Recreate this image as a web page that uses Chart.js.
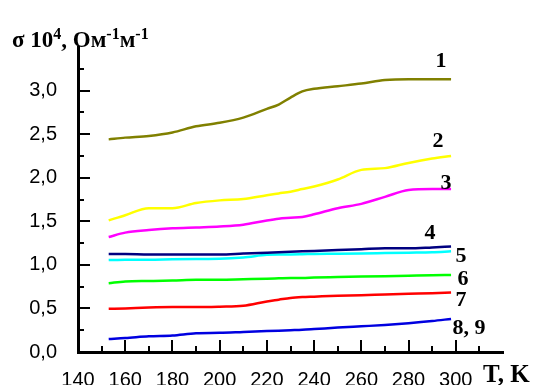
<!DOCTYPE html>
<html>
<head>
<meta charset="utf-8">
<script src="https://cdn.jsdelivr.net/npm/chart.js@4.4.1/dist/chart.umd.min.js"></script>
<style>
  body { margin: 0; background: #fff; }
  #wrap { position: relative; width: 538px; height: 385px; }
  #title {
    position: absolute; left: 12px; top: 27px; line-height: 23px;
    font: bold 23px "Liberation Serif", serif; color: #000; white-space: nowrap;
  }
  #title sup { font-size: 16px; vertical-align: 8px; line-height: 0; }
</style>
</head>
<body>
<div id="wrap">
  <canvas id="chart"></canvas>
  <div id="title">σ 10<sup>4</sup>, Ом<sup>-1</sup>м<sup>-1</sup></div>
</div>
<script>
// temperature, K
const temps = [153, 160, 170, 180, 190, 200, 210, 220, 225, 230, 235, 240, 250, 260, 270, 280, 290, 298];

// conductivity, 10^4 Ohm^-1 m^-1
const s1 = [2.44, 2.46, 2.48, 2.52, 2.59, 2.63, 2.69, 2.79, 2.84, 2.92, 2.99, 3.02, 3.05, 3.08, 3.12, 3.13, 3.13, 3.13];
const s2 = [1.51, 1.57, 1.65, 1.65, 1.71, 1.74, 1.755, 1.80, 1.82, 1.84, 1.87, 1.90, 1.98, 2.09, 2.11, 2.17, 2.22, 2.25];
const s3 = [1.32, 1.37, 1.40, 1.42, 1.43, 1.44, 1.46, 1.51, 1.53, 1.54, 1.55, 1.58, 1.65, 1.70, 1.78, 1.86, 1.87, 1.87];
const s4 = [1.125, 1.125, 1.12, 1.12, 1.12, 1.12, 1.13, 1.14, 1.145, 1.15, 1.155, 1.16, 1.17, 1.18, 1.19, 1.19, 1.20, 1.21];
const s5 = [1.055, 1.06, 1.06, 1.065, 1.068, 1.07, 1.085, 1.115, 1.12, 1.12, 1.122, 1.125, 1.127, 1.13, 1.135, 1.14, 1.145, 1.155];
const s6 = [0.79, 0.81, 0.815, 0.82, 0.83, 0.83, 0.835, 0.84, 0.845, 0.85, 0.85, 0.855, 0.86, 0.865, 0.87, 0.875, 0.88, 0.885];
const s7 = [0.495, 0.50, 0.51, 0.515, 0.515, 0.52, 0.53, 0.58, 0.60, 0.62, 0.63, 0.635, 0.645, 0.65, 0.66, 0.668, 0.675, 0.683];
const s89 = [0.15, 0.16, 0.18, 0.19, 0.215, 0.22, 0.23, 0.24, 0.245, 0.25, 0.255, 0.263, 0.28, 0.295, 0.31, 0.33, 0.355, 0.38];

const seriesNames = ["1", "2", "3", "4", "5", "6", "7", "8, 9"];
const seriesValues = [s1, s2, s3, s4, s5, s6, s7, s89];
const seriesColors = ["#808000", "#ffff00", "#ff00ff", "#000080", "#00ffff", "#00ff00", "#ff0000", "#0000e0"];
// label offset from the end of each curve, px
const labelOffsets = [[-10, -18], [-13, -15], [-5, -6], [-21, -13], [10, 5], [12, 4], [10, 8], [18, 9]];

const xTicks = [140, 160, 180, 200, 220, 240, 260, 280, 300];
const yTicks = [0, 0.5, 1, 1.5, 2, 2.5, 3];

// ticks inside the axes, labels at the curve ends, axis name
const decorPlugin = {
  id: "decor",
  afterDraw(chart) {
    const ctx = chart.ctx;
    const xs = chart.scales.x, ys = chart.scales.y;
    const left = chart.chartArea.left, bottom = chart.chartArea.bottom;
    ctx.save();
    ctx.strokeStyle = "#000";
    ctx.lineWidth = 2;
    ctx.beginPath();
    for (let t = 150; t <= 310; t += 10) {
      const px = Math.round(xs.getPixelForValue(t));
      const len = t % 20 === 0 ? 12 : 6;
      ctx.moveTo(px, bottom);
      ctx.lineTo(px, bottom - len);
    }
    for (let k = 1; k <= 13; k++) {
      const v = k * 0.25;
      const py = Math.round(ys.getPixelForValue(v));
      const len = k % 2 === 0 ? 12 : 6;
      ctx.moveTo(left, py);
      ctx.lineTo(left + len, py);
    }
    ctx.stroke();

    ctx.fillStyle = "#000";
    ctx.font = "bold 22px 'Liberation Serif', serif";
    ctx.textAlign = "center";
    ctx.textBaseline = "middle";
    chart.data.datasets.forEach((ds, i) => {
      const last = ds.data[ds.data.length - 1];
      const px = xs.getPixelForValue(last.x) + labelOffsets[i][0];
      const py = ys.getPixelForValue(last.y) + labelOffsets[i][1];
      ctx.fillText(seriesNames[i], px, py);
    });

    ctx.font = "bold 25px 'Liberation Serif', serif";
    ctx.textAlign = "left";
    ctx.textBaseline = "alphabetic";
    ctx.fillText("T, K", 483, 382);
    ctx.restore();
  }
};

new Chart(document.getElementById("chart"), {
  type: "line",
  data: {
    datasets: seriesValues.map((vals, i) => ({
      label: seriesNames[i],
      data: temps.map((t, j) => ({ x: t, y: vals[j] })),
      borderColor: seriesColors[i],
      borderWidth: 2.5,
      pointRadius: 0,
      tension: 0.4,
      cubicInterpolationMode: "monotone",
      fill: false,
    })),
  },
  options: {
    responsive: true,
    maintainAspectRatio: false,
    animation: false,
    layout: { padding: { top: 47, right: 35, left: 0, bottom: 0 } },
    plugins: {
      legend: { display: false },
      tooltip: { enabled: false },
    },
    scales: {
      x: {
        type: "linear",
        min: 140,
        max: 320,
        afterBuildTicks: (s) => { s.ticks = xTicks.map((v) => ({ value: v })); },
        afterFit: (s) => { s.height = 33; },
        grid: { display: false },
        border: { display: true, color: "#000", width: 3 },
        ticks: {
          color: "#000",
          padding: 8,
          maxRotation: 0,
          autoSkip: false,
          font: { family: "'Liberation Sans', Arial, sans-serif", size: 20 },
        },
      },
      y: {
        min: 0,
        max: 3.5,
        afterBuildTicks: (s) => { s.ticks = yTicks.map((v) => ({ value: v })); },
        afterFit: (s) => { s.width = 78; },
        grid: { display: false },
        border: { display: true, color: "#000", width: 3 },
        ticks: {
          color: "#000",
          padding: 13,
          font: { family: "'Liberation Sans', Arial, sans-serif", size: 20 },
          callback: (v) => v.toFixed(1).replace(".", ","),
        },
      },
    },
  },
  plugins: [decorPlugin],
});
</script>
</body>
</html>
